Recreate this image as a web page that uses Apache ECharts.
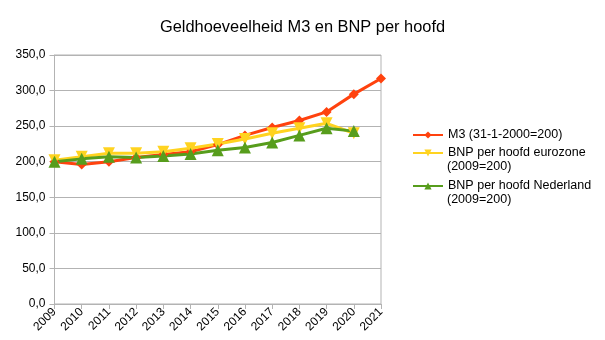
<!DOCTYPE html>
<html>
<head>
<meta charset="utf-8">
<script src="https://cdn.jsdelivr.net/npm/echarts@6/dist/echarts.min.js"></script>
<style>
  html, body { margin: 0; padding: 0; background: #fff; }
  #chart { width: 605px; height: 340px; }
</style>
</head>
<body>
<div id="chart"></div>
<script>
// Years on the category axis
const years = ['2009', '2010', '2011', '2012', '2013', '2014', '2015', '2016', '2017', '2018', '2019', '2020', '2021'];

// Money supply M3 (31-1-2000 = 200)
const m3 = [200, 196, 200, 206, 210, 214, 224, 237, 248, 258, 270, 295, 317];
// GDP per capita, eurozone (2009 = 200)
const bnpEurozone = [202, 207, 212, 212, 214, 219, 225, 232, 240, 247, 254, 240, null];
// GDP per capita, Netherlands (2009 = 200)
const bnpNederland = [200, 204, 207, 206, 208, 211, 216, 220, 227, 237, 247, 243, null];

// Value-axis ticks
const yMin = 0, yMax = 350, yStep = 50;

const names = ['M3 (31-1-2000=200)', 'BNP per hoofd eurozone', 'BNP per hoofd Nederland'];
const subNames = ['', '(2009=200)', '(2009=200)'];
const colors = ['#ff420e', '#ffd320', '#579d1c'];

const font = '"Liberation Sans", Arial, sans-serif';
const gridColor = '#b3b3b3';

// One legend block per series; the second caption line sits under its entry
const legendTops = [127.5, 145.5, 178.5];
const legends = names.map((n, i) => ({
  orient: 'vertical',
  left: 412,
  top: legendTops[i],
  padding: 0,
  itemWidth: 30,
  itemHeight: 9,
  textStyle: { fontFamily: font, fontSize: 12.5, color: '#000', lineHeight: 15 },
  data: [n]
}));
const subTexts = subNames.map((s, i) => s ? {
  type: 'text',
  left: 447,
  top: legendTops[i] + 15,
  style: { text: s, font: '12.5px ' + font, fill: '#000' }
} : null).filter(Boolean);

const chart = echarts.init(document.getElementById('chart'), null, { renderer: 'canvas' });

chart.setOption({
  animation: false,
  backgroundColor: '#ffffff',
  title: {
    text: 'Geldhoeveelheid M3 en BNP per hoofd',
    left: 'center',
    top: 14,
    textStyle: { fontFamily: font, fontSize: 16.4, fontWeight: 'normal', color: '#000' }
  },
  grid: {
    left: 54.5, right: 224, top: 55, bottom: 36,
    show: true, borderColor: gridColor, borderWidth: 1, backgroundColor: 'transparent'
  },
  legend: legends,
  graphic: subTexts,
  xAxis: {
    type: 'category',
    data: years,
    boundaryGap: false,
    axisLine: { lineStyle: { color: gridColor } },
    axisTick: { show: true, alignWithLabel: true, length: 5, lineStyle: { color: gridColor } },
    axisLabel: { rotate: 45, fontFamily: font, fontSize: 12, color: '#000', margin: 6, interval: 0 },
    splitLine: { show: false }
  },
  yAxis: {
    type: 'value',
    min: yMin, max: yMax, interval: yStep,
    axisLine: { show: true, lineStyle: { color: gridColor } },
    axisTick: { show: true, length: 5, lineStyle: { color: gridColor } },
    axisLabel: {
      fontFamily: font, fontSize: 12, color: '#000', margin: 9,
      formatter: v => v.toFixed(1).replace('.', ',')
    },
    splitLine: { lineStyle: { color: gridColor, width: 1 } }
  },
  series: [
    {
      name: names[0], type: 'line', data: m3,
      color: colors[0],
      symbol: 'diamond', symbolSize: 10, showSymbol: true,
      lineStyle: { width: 3 }
    },
    {
      name: names[1], type: 'line', data: bnpEurozone,
      color: colors[1],
      symbol: 'triangle', symbolRotate: 180, symbolSize: 12, showSymbol: true,
      lineStyle: { width: 3 }
    },
    {
      name: names[2], type: 'line', data: bnpNederland,
      color: colors[2],
      symbol: 'triangle', symbolSize: 12, showSymbol: true,
      lineStyle: { width: 3 }
    }
  ]
});
</script>
</body>
</html>
